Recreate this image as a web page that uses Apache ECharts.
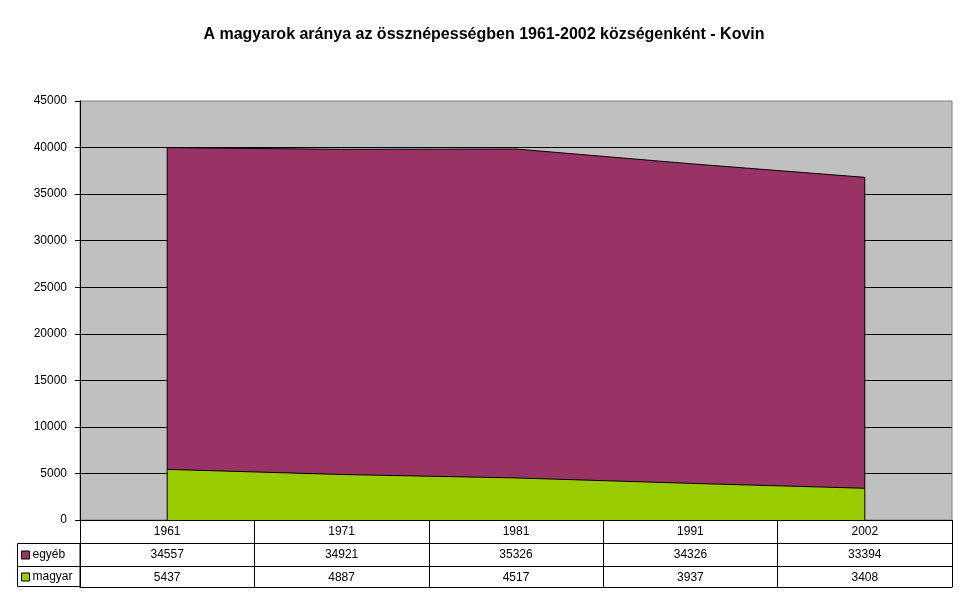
<!DOCTYPE html>
<html>
<head>
<meta charset="utf-8">
<script src="https://cdn.jsdelivr.net/npm/echarts@6/dist/echarts.min.js"></script>
<style>
  html, body { margin: 0; padding: 0; background: #fff; }
  #main { width: 968px; height: 604px; }
</style>
</head>
<body>
<div id="main"></div>
<script>
// adatok
var years = ["1961", "1971", "1981", "1991", "2002"];
var egyeb = [34557, 34921, 35326, 34326, 33394];
var magyar = [5437, 4887, 4517, 3937, 3408];
var yTicks = [0, 5000, 10000, 15000, 20000, 25000, 30000, 35000, 40000, 45000];

var font = "Liberation Sans, Arial, sans-serif";
var totals = years.map(function (y, i) { return egyeb[i] + magyar[i]; });
var last = years.length - 1;

var myChart = echarts.init(document.getElementById("main"));

// egy sor a tablazatban = egy x tengely
function tableAxis(data, offset, tickLen, showLabel) {
  return {
    type: "category",
    data: data,
    position: "bottom",
    offset: offset,
    boundaryGap: true,
    axisLine: { show: true, lineStyle: { color: "#000", width: 1 } },
    axisTick: {
      show: tickLen > 0,
      interval: 0,
      length: tickLen,
      lineStyle: { color: "#000", width: 1 }
    },
    axisLabel: {
      show: showLabel,
      interval: 0,
      margin: 6,
      color: "#000",
      fontFamily: font,
      fontSize: 12
    },
    splitLine: { show: false }
  };
}

var option = {
  backgroundColor: "#fff",
  animation: false,
  title: {
    text: "A magyarok aránya az össznépességben 1961-2002 községenként - Kovin",
    left: "center",
    top: 22,
    textStyle: { color: "#000", fontFamily: font, fontSize: 16, fontWeight: "bold" }
  },
  legend: {
    orient: "vertical",
    left: 16,
    top: 544,
    icon: "rect",
    itemWidth: 8,
    itemHeight: 8,
    itemGap: 10,
    selectedMode: false,
    textStyle: { color: "#000", fontFamily: font, fontSize: 12, padding: [0, 0, 0, -2] },
    data: [
      { name: "egyéb", itemStyle: { color: "#993366", borderColor: "#000", borderWidth: 1 } },
      { name: "magyar", itemStyle: { color: "#99CC00", borderColor: "#000", borderWidth: 1 } }
    ]
  },
  grid: {
    left: 80,
    right: 16,
    top: 101,
    bottom: 84,
    show: true,
    backgroundColor: "#C0C0C0",
    borderColor: "#808080",
    borderWidth: 1
  },
  xAxis: [
    tableAxis(years, 0, 23, true),
    tableAxis(egyeb.map(String), 23, 23, true),
    tableAxis(magyar.map(String), 46, 21, true),
    tableAxis(years.map(function () { return ""; }), 67, 0, false)
  ],
  yAxis: {
    type: "value",
    min: yTicks[0],
    max: yTicks[yTicks.length - 1],
    interval: yTicks[1] - yTicks[0],
    axisLine: { show: true, lineStyle: { color: "#000", width: 1 } },
    axisTick: { show: true, length: 5, lineStyle: { color: "#000" } },
    axisLabel: {
      color: "#000",
      fontFamily: font,
      fontSize: 12,
      margin: 13,
      formatter: function (v) { return String(v); }
    },
    splitLine: { show: true, showMaxLine: false, lineStyle: { color: "#000", width: 1 } }
  },
  series: [
    {
      name: "magyar",
      type: "line",
      stack: "total",
      color: "#99CC00",
      symbol: "none",
      lineStyle: { color: "#000", width: 1 },
      areaStyle: { color: "#99CC00", opacity: 1 },
      data: magyar
    },
    {
      name: "egyéb",
      type: "line",
      stack: "total",
      color: "#993366",
      symbol: "none",
      lineStyle: { color: "#000", width: 1 },
      areaStyle: { color: "#993366", opacity: 1 },
      data: egyeb
    },
    {
      name: "edgeLeft",
      type: "line",
      symbol: "none",
      lineStyle: { color: "#000", width: 1 },
      data: [[0, 0], [0, totals[0]]],
      z: 3
    },
    {
      name: "edgeRight",
      type: "line",
      symbol: "none",
      lineStyle: { color: "#000", width: 1 },
      data: [[last, 0], [last, totals[last]]],
      z: 3
    }
  ],
  graphic: [
    {
      type: "rect",
      shape: { x: 17.5, y: 543.5, width: 62.5, height: 43 },
      style: { fill: "none", stroke: "#000", lineWidth: 1 }
    },
    {
      type: "line",
      shape: { x1: 17.5, y1: 566.5, x2: 80, y2: 566.5 },
      style: { stroke: "#000", lineWidth: 1 }
    }
  ]
};

myChart.setOption(option);
</script>
</body>
</html>
